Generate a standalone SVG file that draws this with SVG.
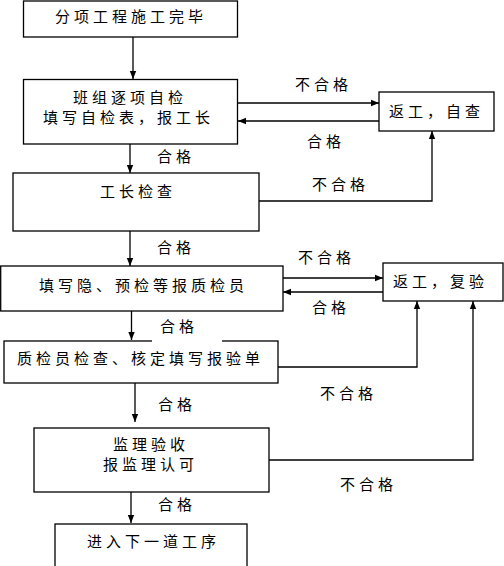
<svg xmlns="http://www.w3.org/2000/svg" width="504" height="566" viewBox="0 0 504 566">
<style>
.box{fill:#fff;stroke:#000;stroke-width:1.3}
.t{font-family:"Noto Sans CJK SC","Noto Sans CJK JP",sans-serif;font-size:15px;letter-spacing:4px;fill:#000}
.c{fill:none;stroke:#000;stroke-width:1.3;marker-end:url(#ah)}
.n{fill:none;stroke:#000;stroke-width:1.3}
</style>
<defs>
<marker id="ah" markerUnits="userSpaceOnUse" markerWidth="8" markerHeight="8" viewBox="0 0 8 8" refX="8" refY="4" orient="auto">
<path d="M0,0.8 L8,4 L0,7.2 Z" fill="#000"/>
</marker>
</defs>
<rect width="504" height="566" fill="#fff"/>
<g id="connectors">
<path class="c" d="M133,37 V79"/>
<path class="c" d="M130,144 V173"/>
<path class="c" d="M130,231 V266"/>
<path class="c" d="M131.5,311 V340"/>
<path class="c" d="M135,383 V422"/>
<path class="c" d="M131,492 V523"/>
<path class="c" d="M238,103 H379"/>
<path class="c" d="M379,121 H238"/>
<path class="c" d="M259,201 H432 V131"/>
<path class="c" d="M283,278 H383"/>
<path class="c" d="M383,292 H283"/>
<path class="c" d="M278,367 H417 V301"/>
<path class="c" d="M269,460 H473 V301"/>
</g>
<g id="n1"><rect class="box" x="23.5" y="1" width="214" height="36"/><text class="t" x="55" y="22">分项工程施工完毕</text></g>
<g id="n2"><rect class="box" x="23.5" y="79.5" width="214" height="64.5"/><text class="t" x="73" y="103">班组逐项自检</text><text class="t" x="43" y="123">填写自检表，报工长</text></g>
<g id="n3"><rect class="box" x="13" y="173" width="246" height="58"/><text class="t" x="100" y="197">工长检查</text></g>
<g id="n4"><rect class="box" x="0.7" y="266" width="282.3" height="45"/><text class="t" x="39" y="291">填写隐、预检等报质检员</text></g>
<g id="n5"><rect class="box" x="4" y="341" width="274" height="42"/><text class="t" x="17" y="364">质检员检查、核定填写报验单</text></g>
<g id="n6"><rect class="box" x="34" y="428" width="235" height="64"/><text class="t" x="113" y="450">监理验收</text><text class="t" x="103" y="470">报监理认可</text></g>
<g id="n7"><rect class="box" x="55" y="524" width="192" height="60"/><text class="t" x="87" y="547">进入下一道工序</text></g>
<g id="n8"><rect class="box" x="379" y="92" width="115" height="39"/><text class="t" x="389" y="117">返工，自查</text></g>
<g id="n9"><rect class="box" x="383" y="263" width="120" height="38"/><text class="t" x="393" y="287">返工，复验</text></g>
<g id="labels">
<text class="t" x="157" y="162">合格</text>
<text class="t" x="157" y="253">合格</text>
<rect x="152" y="339" width="70" height="4" fill="#fff"/>
<text class="t" x="160" y="332">合格</text>
<text class="t" x="158" y="410">合格</text>
<text class="t" x="158" y="510">合格</text>
<text class="t" x="295" y="90">不合格</text>
<text class="t" x="307" y="147">合格</text>
<text class="t" x="312" y="190">不合格</text>
<text class="t" x="298" y="263">不合格</text>
<text class="t" x="312" y="313">合格</text>
<text class="t" x="320" y="399">不合格</text>
<text class="t" x="340" y="490">不合格</text>
</g>
</svg>
